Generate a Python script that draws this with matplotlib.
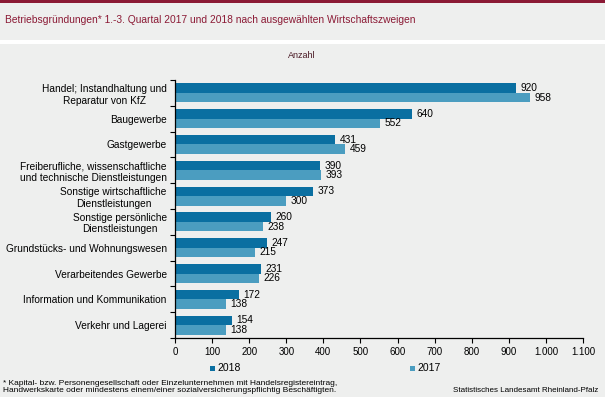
import matplotlib
matplotlib.use("Agg")
import matplotlib.pyplot as plt
from matplotlib.patches import Rectangle
import numpy as np

plt.rcParams['font.family'] = ['Liberation Sans', 'DejaVu Sans']

categories = [
    "Handel; Instandhaltung und\nReparatur von KfZ",
    "Baugewerbe",
    "Gastgewerbe",
    "Freiberufliche, wissenschaftliche\nund technische Dienstleistungen",
    "Sonstige wirtschaftliche\nDienstleistungen",
    "Sonstige persönliche\nDienstleistungen",
    "Grundstücks- und Wohnungswesen",
    "Verarbeitendes Gewerbe",
    "Information und Kommunikation",
    "Verkehr und Lagerei",
]
values_2018 = [920, 640, 431, 390, 373, 260, 247, 231, 172, 154]
values_2017 = [958, 552, 459, 393, 300, 238, 215, 226, 138, 138]
xticks = list(range(0, 1101, 100))
xtick_labels = ["0", "100", "200", "300", "400", "500", "600", "700", "800", "900", "1.000", "1.100"]

c2018 = "#0a6fa1"
c2017 = "#4b9dc0"
bg = "#eeefee"
maroon = "#8b1a35"

W, H = 605, 397
fig = plt.figure(figsize=(W / 100, H / 100), dpi=100)
fig.patch.set_facecolor(bg)

# top bar and white separator
fig.patches.append(Rectangle((0, 1 - 2.5 / H), 1, 2.5 / H, transform=fig.transFigure,
                             facecolor=maroon, edgecolor='none', zorder=0))
fig.patches.append(Rectangle((0, 1 - 43.5 / H), 1, 3.5 / H, transform=fig.transFigure,
                             facecolor='white', edgecolor='none', zorder=0))

fig.text(5 / W, 1 - 20 / H, "Betriebsgründungen* 1.-3. Quartal 2017 und 2018 nach ausgewählten Wirtschaftszweigen",
         color=maroon, fontsize=7.4, ha='left', va='center')
fig.text(302 / W, 1 - 56 / H, "Anzahl", color="#4a1a25", fontsize=6.5, ha='center', va='center')

ax = fig.add_axes([175 / W, 1 - 338 / H, (583 - 175) / W, (338 - 80) / H])
ax.set_facecolor(bg)

n = len(categories)
y = np.arange(n)
h = 0.37
ax.barh(y - h / 2, values_2018, height=h, color=c2018, label="2018")
ax.barh(y + h / 2, values_2017, height=h, color=c2017, label="2017")

for yi, v in zip(y, values_2018):
    ax.text(v + 12, yi - h / 2, str(v), va='center', ha='left', fontsize=7.3, color='black')
for yi, v in zip(y, values_2017):
    ax.text(v + 12, yi + h / 2, str(v), va='center', ha='left', fontsize=7.3, color='black')

ax.set_ylim(n - 0.5, -0.5)
ax.set_xlim(0, 1100)
ax.set_xticks(xticks)
ax.set_xticklabels(xtick_labels, fontsize=7)

ax.set_yticks(y)
ax.set_yticklabels(categories, fontsize=7.3, multialignment='center')
ax.tick_params(axis='y', length=0, pad=6)
ax.set_yticks(np.arange(-0.5, n, 1), minor=True)
ax.tick_params(axis='y', which='minor', length=3.5, width=0.8, direction='out')
ax.tick_params(axis='x', length=3.5, width=0.8, direction='out', pad=3)

for s in ['top', 'right']:
    ax.spines[s].set_visible(False)
ax.spines['left'].set_linewidth(0.9)
ax.spines['bottom'].set_linewidth(0.9)

# legend
fig.patches.append(Rectangle((210 / W, 1 - 371 / H), 5 / W, 5 / H, transform=fig.transFigure,
                             facecolor=c2018, edgecolor='none'))
fig.text(217 / W, 1 - 368 / H, "2018", fontsize=7.5, ha='left', va='center')
fig.patches.append(Rectangle((410 / W, 1 - 371 / H), 5 / W, 5 / H, transform=fig.transFigure,
                             facecolor=c2017, edgecolor='none'))
fig.text(417 / W, 1 - 368 / H, "2017", fontsize=7.5, ha='left', va='center')

fig.text(3 / W, 1 - 387 / H,
         "* Kapital- bzw. Personengesellschaft oder Einzelunternehmen mit Handelsregistereintrag,\nHandwerkskarte oder mindestens einem/einer sozialversicherungspflichtig Beschäftigten.",
         fontsize=6.0, ha='left', va='center', linespacing=1.0)
fig.text(598 / W, 1 - 390 / H, "Statistisches Landesamt Rheinland-Pfalz",
         fontsize=5.8, ha='right', va='center')

fig.savefig("out.png", dpi=100, facecolor=bg)
